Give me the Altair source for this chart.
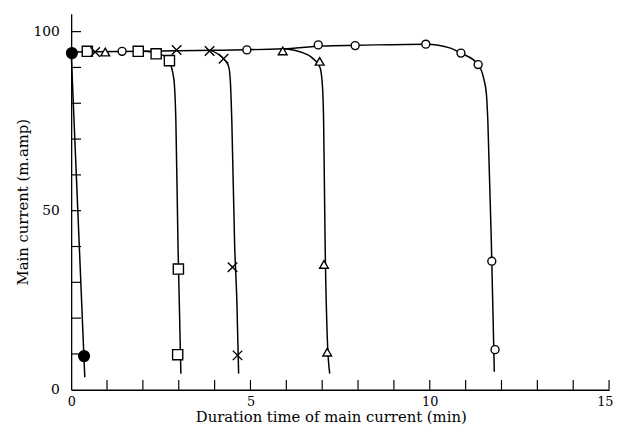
import altair as alt
import pandas as pd

# ---- drawn curves ----
filled_cx = [0.0, 0.38]
filled_cy = [94.3, 3.5]

circle_cx = [0.0, 2.0, 4.0, 5.9, 7.0, 8.0, 9.9, 10.58, 10.87, 11.35, 11.5, 11.58, 11.62, 11.72, 11.8]
circle_cy = [94.3, 94.5, 94.8, 95.2, 96.0, 96.2, 96.5, 95.4, 94.0, 90.8, 87.1, 82.5, 75.0, 40.0, 5.0]

square_cx = [2.0, 2.4, 2.7, 2.86, 2.92, 2.98, 3.06]
square_cy = [94.5, 94.0, 92.3, 87.0, 75.0, 40.0, 4.5]

cross_cx = [3.9, 4.25, 4.39, 4.44, 4.48, 4.56, 4.62, 4.67]
cross_cy = [94.7, 92.4, 90.3, 86.0, 75.0, 40.0, 25.0, 4.5]

tri_cx = [5.9, 6.4, 6.73, 6.94, 7.01, 7.04, 7.08, 7.14, 7.21]
tri_cy = [95.2, 94.3, 92.6, 90.0, 84.4, 75.0, 42.0, 15.0, 4.5]

# ---- measured points ----
filled_x = [0.02, 0.36]
filled_y = [94.0, 9.4]
square_x = [0.45, 1.87, 2.37, 2.74, 2.99, 2.97]
square_y = [94.5, 94.5, 93.8, 91.9, 33.7, 9.8]
cross_x = [0.67, 2.94, 3.86, 4.25, 4.5, 4.64]
cross_y = [94.3, 94.9, 94.6, 92.4, 34.2, 9.6]
tri_x = [0.95, 5.9, 6.93, 7.05, 7.14]
tri_y = [94.3, 94.6, 91.7, 35.0, 10.5]
circle_x = [1.42, 4.9, 6.89, 7.92, 9.89, 10.87, 11.35, 11.73, 11.82]
circle_y = [94.5, 94.9, 96.3, 96.1, 96.5, 94.0, 90.8, 35.9, 11.2]

x_labels = [0, 5, 10, 15]
y_labels = [0, 50, 100]
x_ticks = list(range(1, 16))
y_ticks = list(range(10, 101, 10))

W, H = 545, 381

curves = []
for name, xs, ys in [("filled", filled_cx, filled_cy), ("circle", circle_cx, circle_cy),
                     ("square", square_cx, square_cy), ("cross", cross_cx, cross_cy),
                     ("tri", tri_cx, tri_cy)]:
    for i, (a, b) in enumerate(zip(xs, ys)):
        curves.append({"s": name, "x": a, "y": b, "o": i})
curves = pd.DataFrame(curves)

pts = []
for name, xs, ys in [("filled", filled_x, filled_y), ("square", square_x, square_y),
                     ("cross", cross_x, cross_y), ("tri", tri_x, tri_y),
                     ("circle", circle_x, circle_y)]:
    for a, b in zip(xs, ys):
        pts.append({"s": name, "x": a, "y": b})
pts = pd.DataFrame(pts)

font = "DejaVu Serif"
xscale = alt.Scale(domain=[0, 15], nice=False, zero=False)
yscale = alt.Scale(domain=[0, 105], nice=False, zero=False)

xaxis = alt.Axis(values=x_labels, title="Duration time of main current (min)",
                 ticks=False, grid=False, domainColor="black", domainWidth=1.3,
                 labelFont=font, labelFontSize=13, labelColor="black", labelPadding=6,
                 labelFlush=True, labelFlushOffset=4,
                 titleFont=font, titleFontSize=15, titleFontWeight="normal", titleColor="black",
                 titlePadding=1, titleX=263)
yaxis = alt.Axis(values=y_labels, title="Main current (m.amp)",
                 ticks=False, grid=False, domainColor="black", domainWidth=1.3,
                 labelFont=font, labelFontSize=14, labelColor="black", labelPadding=12,
                 titleFont=font, titleFontSize=15, titleFontWeight="normal", titleColor="black",
                 titlePadding=3)

base_lines = alt.Chart(curves).mark_line(interpolate="monotone", color="black", strokeWidth=1.5).encode(
    x=alt.X("x:Q", scale=xscale, axis=xaxis),
    y=alt.Y("y:Q", scale=yscale, axis=yaxis),
    detail="s:N",
    order="o:Q",
)

xt = alt.Chart(pd.DataFrame({"t": x_ticks})).mark_rule(color="black", strokeWidth=1.2).encode(
    x=alt.X("t:Q", scale=xscale), y=alt.value(H), y2=alt.value(H - 10))
yt = alt.Chart(pd.DataFrame({"t": y_ticks})).mark_rule(color="black", strokeWidth=1.2).encode(
    y=alt.Y("t:Q", scale=yscale), x=alt.value(0), x2=alt.value(10))

xpath = "M-1,-1L1,1M-1,1L1,-1"
dom = ["filled", "square", "cross", "tri", "circle"]
points = alt.Chart(pts).mark_point(filled=False, strokeWidth=1.4, opacity=1).encode(
    x=alt.X("x:Q", scale=xscale),
    y=alt.Y("y:Q", scale=yscale),
    shape=alt.Shape("s:N", legend=None, scale=alt.Scale(
        domain=dom, range=["circle", "square", xpath, "triangle-up", "circle"])),
    fill=alt.Fill("s:N", legend=None, scale=alt.Scale(
        domain=dom, range=["black", "white", "white", "white", "white"])),
    size=alt.Size("s:N", legend=None, scale=alt.Scale(
        domain=dom, range=[120, 65, 45, 85, 85])),
    stroke=alt.value("black"),
)

chart = alt.layer(base_lines, xt, yt, points).properties(
    width=W, height=H,
    background="white",
    autosize=alt.AutoSizeParams(type="none"),
    padding={"left": 64, "top": 3, "right": 5, "bottom": 40},
).configure_view(stroke=None)

chart.save("out.html", embed_options={"renderer": "svg", "actions": False})
